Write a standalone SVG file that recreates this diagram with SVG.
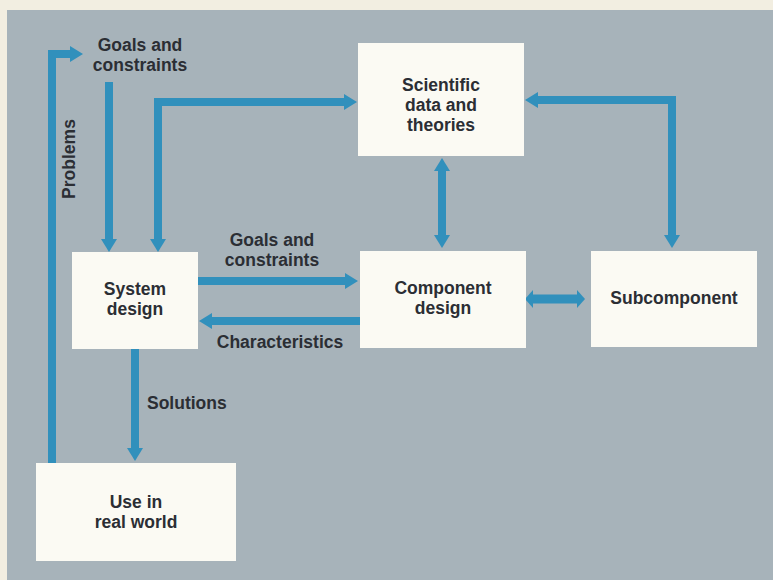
<svg xmlns="http://www.w3.org/2000/svg" width="773" height="580" viewBox="0 0 773 580">
<defs>
<style>
.box{fill:#fbfaf3;}
.lbl{font-family:"Liberation Sans",Arial,Helvetica,sans-serif;font-weight:bold;font-size:17.5px;fill:#2b2e34;text-anchor:middle;}
.ln{fill:none;stroke:#3190bc;stroke-width:8;stroke-linejoin:miter;}
</style>
<marker id="ah" markerUnits="userSpaceOnUse" markerWidth="14" markerHeight="16" refX="0" refY="8" orient="auto-start-reverse" overflow="visible">
<path d="M0,0 L13,8 L0,16 z" fill="#3190bc"/>
</marker>
<marker id="ahs" markerUnits="userSpaceOnUse" markerWidth="9" markerHeight="18" refX="0" refY="9" orient="auto-start-reverse" overflow="visible">
<path d="M0,0 L8,9 L0,18 z" fill="#3190bc"/>
</marker>
</defs>
<rect x="0" y="0" width="773" height="580" fill="#f2eee1"/>
<rect x="7" y="10" width="766" height="570" fill="#a7b3ba"/>

<g id="connectors">
<path class="ln" d="M52,463 V54 H70" marker-end="url(#ah)"/>
<path class="ln" d="M109,82 V239" marker-end="url(#ah)"/>
<path class="ln" d="M158,239 V102 H344" marker-start="url(#ah)" marker-end="url(#ah)"/>
<path class="ln" d="M442,171 V235" marker-start="url(#ah)" marker-end="url(#ah)"/>
<path class="ln" d="M672,235 V100 H538" marker-start="url(#ah)" marker-end="url(#ah)"/>
<path class="ln" d="M198,281 H345" marker-end="url(#ah)"/>
<path class="ln" d="M360,321 H212" marker-end="url(#ah)"/>
<path class="ln" d="M135,349 V448" marker-end="url(#ah)"/>
<path class="ln" style="stroke-width:9" d="M533,299 H577" marker-start="url(#ahs)" marker-end="url(#ahs)"/>
<text class="lbl" x="140" y="51">Goals and</text>
<text class="lbl" x="140" y="71">constraints</text>
<text class="lbl" transform="translate(75,159) rotate(-90)">Problems</text>
<text class="lbl" x="272" y="246">Goals and</text>
<text class="lbl" x="272" y="266">constraints</text>
<text class="lbl" x="280" y="348">Characteristics</text>
<text class="lbl" x="147" y="409" style="text-anchor:start">Solutions</text>
</g>

<g id="scientific">
<rect class="box" x="358" y="43" width="166" height="113"/>
<text class="lbl" x="441" y="91">Scientific</text>
<text class="lbl" x="441" y="111">data and</text>
<text class="lbl" x="441" y="131">theories</text>
</g>
<g id="system-design">
<rect class="box" x="72" y="252" width="126" height="97"/>
<text class="lbl" x="135" y="295">System</text>
<text class="lbl" x="135" y="315">design</text>
</g>
<g id="component-design">
<rect class="box" x="360" y="251" width="166" height="97"/>
<text class="lbl" x="443" y="294">Component</text>
<text class="lbl" x="443" y="314">design</text>
</g>
<g id="subcomponent">
<rect class="box" x="591" y="251" width="166" height="96"/>
<text class="lbl" x="674" y="304">Subcomponent</text>
</g>
<g id="use-real-world">
<rect class="box" x="36" y="463" width="200" height="98"/>
<text class="lbl" x="136" y="508">Use in</text>
<text class="lbl" x="136" y="528">real world</text>
</g>
</svg>
